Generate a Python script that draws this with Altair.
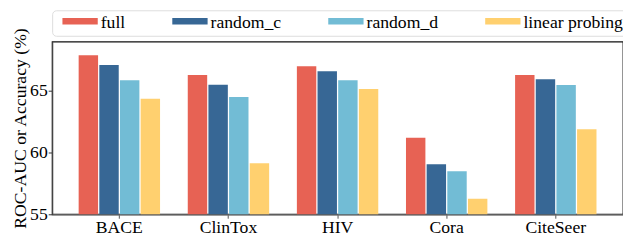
import altair as alt
import pandas as pd

datasets = ["BACE", "ClinTox", "HIV", "Cora", "CiteSeer"]
methods = ["full", "random_c", "random_d", "linear probing"]
colors = ["#E76254", "#376795", "#72BCD5", "#FFD06F"]

full = [67.9, 66.3, 67.0, 61.2, 66.3]
random_c = [67.1, 65.5, 66.6, 59.05, 65.95]
random_d = [65.87, 64.52, 65.87, 58.5, 65.48]
linear_probing = [64.37, 59.13, 65.16, 56.27, 61.9]

series = [full, random_c, random_d, linear_probing]
rows = []
for m, vals in zip(methods, series):
    for d, v in zip(datasets, vals):
        rows.append({"dataset": d, "method": m, "value": v})
df = pd.DataFrame(rows)

FONT = "Liberation Serif"
W, H = 582, 176

# 36x13 legend swatch (symbol size 13 for layout), nudged up a little
swatch = "M-2.769,-0.77H2.769V0.23H-2.769Z"

chart = alt.Chart(df).mark_bar(clip=True).encode(
    x=alt.X("dataset:N", sort=datasets,
            scale=alt.Scale(paddingInner=0.254, paddingOuter=0.243),
            axis=alt.Axis(title=None, labelAngle=0, labelFont=FONT, labelFontSize=18,
                          labelColor="black", tickSize=4, tickColor="#555",
                          domainColor="#777", domainWidth=1.3, labelPadding=1)),
    xOffset=alt.XOffset("method:N", sort=methods,
                        scale=alt.Scale(paddingInner=0.06, paddingOuter=0)),
    y=alt.Y("value:Q",
            scale=alt.Scale(domain=[55, 69], zero=False, nice=False),
            axis=alt.Axis(title="ROC-AUC or Accuracy (%)", values=[55, 60, 65],
                          titleFont=FONT, titleFontSize=18, titleFontWeight="normal",
                          titleColor="black", titleLimit=500,
                          titleX=-27, titleY=88, titleAngle=270,
                          titleBaseline="alphabetic", titleAlign="center",
                          labelFont=FONT, labelFontSize=18,
                          labelColor="black", tickSize=4, tickColor="#333",
                          domainColor="#444", domainWidth=1.3, labelPadding=1,
                          grid=False)),
    color=alt.Color("method:N", sort=methods,
                    scale=alt.Scale(domain=methods, range=colors),
                    legend=alt.Legend(title=None, orient="none", legendX=0, legendY=-32,
                                      direction="horizontal", columns=4,
                                      symbolType=swatch, symbolSize=169,
                                      symbolStrokeWidth=0, symbolOpacity=1,
                                      symbolOffset=15.5,
                                      labelFont=FONT, labelFontSize=18, labelColor="black",
                                      labelOffset=12, columnPadding=41,
                                      padding=4, strokeColor="#dddddd",
                                      cornerRadius=4, fillColor="white",
                                      labelLimit=300)),
).properties(
    width=W, height=H,
    autosize=alt.AutoSizeParams(type="none"),
    padding={"left": 45, "top": 32, "right": 0, "bottom": 30},
).configure(
    font=FONT
).configure_view(
    stroke="#111", strokeWidth=1.3
)

chart.save("out.html", embed_options={"renderer": "svg", "actions": False})
